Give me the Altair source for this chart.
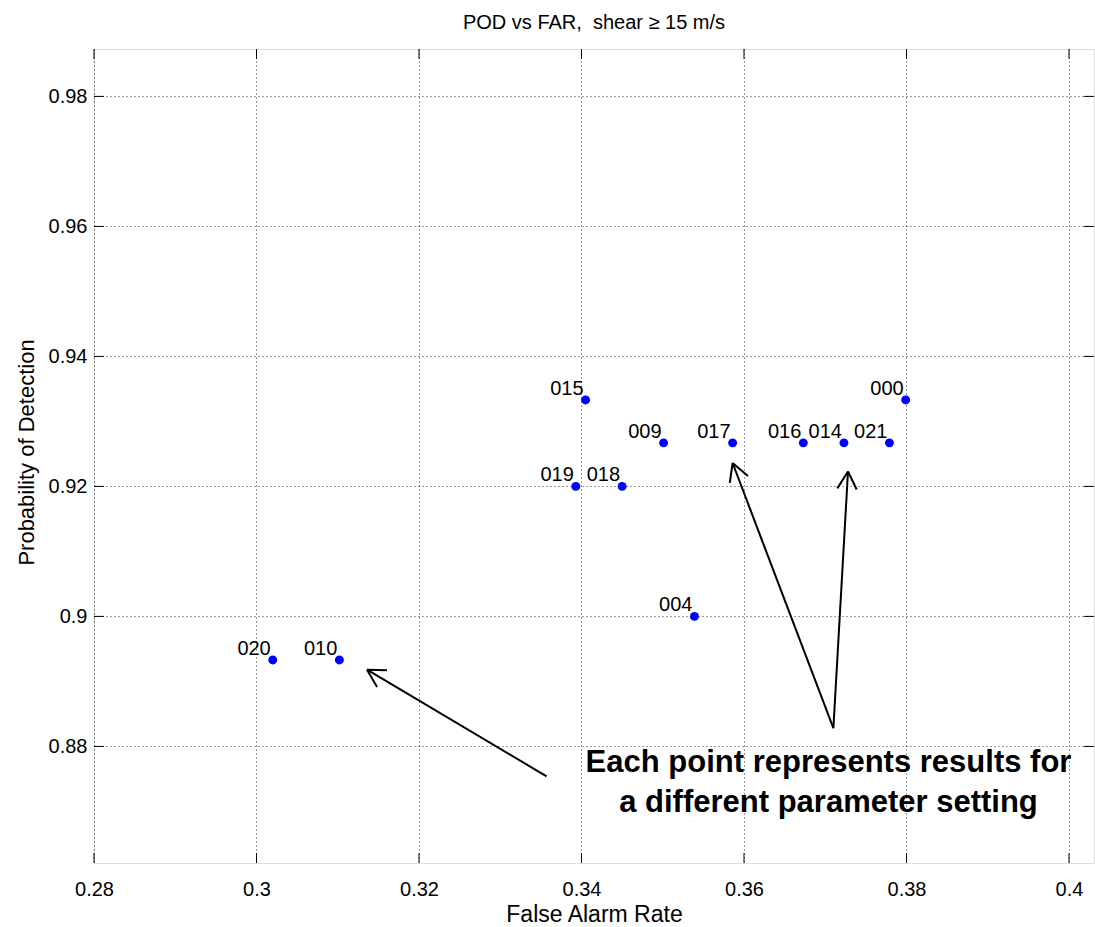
import math
import altair as alt
import pandas as pd

# ---- data ----
labels = ["000", "004", "009", "010", "014", "015", "016", "017", "018", "019", "020", "021"]
far = [0.3799, 0.3539, 0.3501, 0.3102, 0.3723, 0.3405, 0.3673, 0.3586, 0.3450, 0.3393, 0.3020, 0.3779]
pod = [0.9333, 0.9000, 0.9267, 0.8933, 0.9267, 0.9333, 0.9267, 0.9267, 0.9200, 0.9200, 0.8933, 0.9267]

x_ticks = [0.28, 0.30, 0.32, 0.34, 0.36, 0.38, 0.40]
y_ticks = [0.88, 0.90, 0.92, 0.94, 0.96, 0.98]

arrow_tail_x = [0.3357, 0.3710, 0.3710]
arrow_tail_y = [0.8754, 0.8828, 0.8828]
arrow_head_x = [0.3136, 0.3586, 0.3728]
arrow_head_y = [0.8918, 0.9236, 0.9223]

note_text = ["Each point represents results for", "a different parameter setting"]
note_x = 0.3704
note_y = 0.8761

title_text = "POD vs FAR,\u00a0 shear \u2265 15 m/s"

# ---- layout ----
W, H = 1000, 814
X_DOM = [0.28, 0.28 + W / 8125.0]
Y_DOM = [0.98 - (863.3 - 96.7) / 6500.0, 0.98 + (96.7 - 49.3) / 6500.0]
FONT = "Liberation Sans"

kx = W / (X_DOM[1] - X_DOM[0])
ky = H / (Y_DOM[1] - Y_DOM[0])

# arrowhead arms derived from the arrow geometry
head_rows = []
for tx, ty, hx, hy in zip(arrow_tail_x, arrow_tail_y, arrow_head_x, arrow_head_y):
    bx = (tx - hx) * kx
    by = -(ty - hy) * ky
    n = math.hypot(bx, by)
    bx, by = bx / n, by / n
    for a in (math.radians(29), math.radians(-29)):
        rx = bx * math.cos(a) - by * math.sin(a)
        ry = bx * math.sin(a) + by * math.cos(a)
        head_rows.append({"x": hx, "y": hy, "x2": hx + 20 * rx / kx, "y2": hy - 20 * ry / ky})

pts = pd.DataFrame({"x": far, "y": pod, "label": labels})
shafts = pd.DataFrame({"x": arrow_tail_x, "y": arrow_tail_y, "x2": arrow_head_x, "y2": arrow_head_y})
heads = pd.DataFrame(head_rows)
xt = pd.DataFrame({"x": x_ticks})
yt = pd.DataFrame({"y": y_ticks})

xs = alt.Scale(domain=X_DOM, nice=False, zero=False)
ys = alt.Scale(domain=Y_DOM, nice=False, zero=False)

x_axis = alt.Axis(
    values=x_ticks, format=".2~f", grid=True, gridDash=[1, 3], gridColor="#000000",
    gridOpacity=0.8, domain=False, ticks=False, tickSize=0, labelFont=FONT,
    labelFontSize=20, labelColor="black", labelPadding=16, labelFlush=False,
    labelOverlap=False, title="False Alarm Rate", titleFont=FONT, titleFontSize=23,
    titleFontWeight="normal", titleColor="black", titlePadding=4,
)
y_axis = alt.Axis(
    values=y_ticks, format=".2~f", grid=True, gridDash=[1, 3], gridColor="#000000",
    gridOpacity=0.8, domain=False, ticks=False, tickSize=0, labelFont=FONT,
    labelFontSize=20, labelColor="black", labelPadding=7, labelFlush=False,
    labelOverlap=False, title="Probability of Detection", titleFont=FONT,
    titleFontSize=22, titleFontWeight="normal", titleColor="black",
    titleX=-61, titleY=403, titleAngle=270, titleBaseline="alphabetic", titleAlign="center",
)

X = alt.X("x:Q", scale=xs, axis=x_axis)
Y = alt.Y("y:Q", scale=ys, axis=y_axis)

points = alt.Chart(pts).mark_circle(size=80, color="#0000ff", opacity=1).encode(x=X, y=Y)
texts = alt.Chart(pts).mark_text(
    align="right", baseline="alphabetic", dx=-2, dy=-5, font=FONT, fontSize=20, color="black"
).encode(x=X, y=Y, text="label:N")

xtick_bot = alt.Chart(xt).mark_rule(color="black").encode(x=X, y=alt.value(H), y2=alt.value(H - 10))
xtick_top = alt.Chart(xt).mark_rule(color="black").encode(x=X, y=alt.value(0), y2=alt.value(10))
ytick_l = alt.Chart(yt).mark_rule(color="black").encode(y=Y, x=alt.value(0), x2=alt.value(10))
ytick_r = alt.Chart(yt).mark_rule(color="black").encode(y=Y, x=alt.value(W), x2=alt.value(W - 10))

shaft = alt.Chart(shafts).mark_rule(color="black", strokeWidth=2).encode(x=X, y=Y, x2="x2:Q", y2="y2:Q")
head = alt.Chart(heads).mark_rule(color="black", strokeWidth=2).encode(x=X, y=Y, x2="x2:Q", y2="y2:Q")

note = alt.Chart(pd.DataFrame({"t": [note_text]})).mark_text(
    align="center", baseline="alphabetic", font=FONT, fontSize=31, fontWeight="bold",
    lineHeight=40, color="black"
).encode(x=alt.datum(note_x, scale=xs), y=alt.datum(note_y, scale=ys), text="t")

chart = alt.layer(
    xtick_bot, xtick_top, ytick_l, ytick_r, points, texts, shaft, head, note
).properties(
    width=W, height=H,
    autosize=alt.AutoSizeParams(type="none"),
    padding={"left": 94, "top": 49, "right": 1, "bottom": 64},
    title=alt.TitleParams(
        text=title_text, font=FONT, fontSize=20, fontWeight="normal", color="black",
        anchor="middle", baseline="alphabetic", offset=0,
    ),
).configure_view(stroke="black", strokeWidth=1).configure(background="white")

chart.save("out.html", embed_options={"renderer": "svg", "actions": False})
